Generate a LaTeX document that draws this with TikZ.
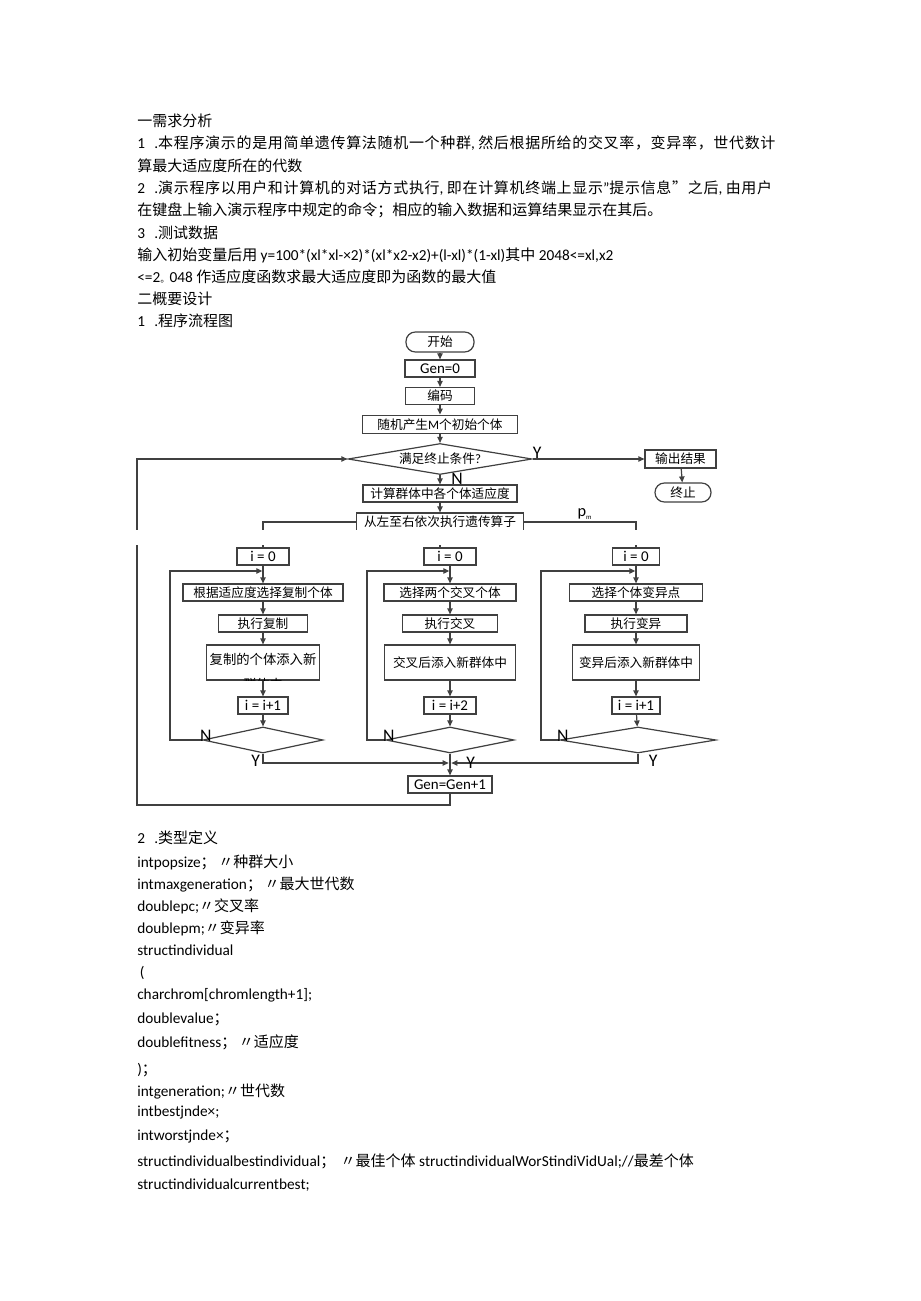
\documentclass[tikz,border=0pt]{standalone}
\usepackage{fontspec}
\setmainfont[Scale=1.02]{Carlito}
\newfontfamily\zhfont{Noto Sans CJK SC}
\newfontfamily\zhwide[LetterSpace=4.5]{Noto Sans CJK SC}
\usetikzlibrary{arrows.meta, shapes.geometric, positioning}

\newcommand{\zh}[1]{{\zhfont #1}}
\newcommand{\zhw}[1]{{\zhwide #1}}
\newcommand{\bodysize}{\fontsize{11.25}{13}\selectfont}
\newcommand{\chartsize}{\fontsize{9.5}{11}\selectfont}

\tikzset{
  line/.style = {draw=black!75, line width=0.9pt},
  arr/.style  = {line, -{Triangle[length=4.5pt, width=4pt]}},
  txt/.style  = {anchor=base west, inner sep=0pt, font=\bodysize},
  box/.style  = {line, rectangle, inner sep=0pt, minimum height=12.75pt, font=\chartsize},
  num/.style  = {box, font=\fontsize{11}{13}\selectfont},
  term/.style = {box, rounded corners=7pt, minimum height=15pt},
  test/.style = {line, diamond, inner sep=0pt, aspect=6, minimum height=19.5pt, font=\chartsize},
  lab/.style  = {inner sep=0pt, font=\fontsize{13}{15}\selectfont},
}

\begin{document}
\begin{tikzpicture}[x=0.75pt, y=-0.75pt]
\fill[white] (0,0) rectangle (920,1301);
\useasboundingbox (0,0) rectangle (920,1301);

% text above the chart
\node[txt] (l1)  at (137,126.5) {\zh{一需求分析}};
\node[txt] (l2)  at (137,148.5) {1\hspace{7pt}.\zhw{本程序演示的是用简单遗传算法随机一个种群}, \zhw{然后根据所给的交叉率，变异率，世代数计}};
\node[txt] (l3)  at (137,171.5) {\zh{算最大适应度所在的代数}};
\node[txt] (l4)  at (137,193.5) {2\hspace{7pt}.\zhw{演示程序以用户和计算机的对话方式执行}, \zhw{即在计算机终端上显示}"\zhw{提示信息”之后}, \zhw{由用户}};
\node[txt] (l5)  at (137,215.5) {\zh{在键盘上输入演示程序中规定的命令；相应的输入数据和运算结果显示在其后。}};
\node[txt] (l6)  at (137,238.5) {3\hspace{7pt}.\zh{测试数据}};
\node[txt] (l7)  at (137,260.5) {\zh{输入初始变量后用} y=100*(xl*xl-×2)*(xl*x2-x2)+(l-xl)*(1-xl)\zh{其中} 2048<=xl,x2};
\node[txt] (l8)  at (137,282.5) {<=2{\zhfont\fontsize{7}{7}\selectfont 。}048 \zh{作适应度函数求最大适应度即为函数的最大值}};
\node[txt] (l9)  at (137,304.5) {\zh{二概要设计}};
\node[txt] (l10) at (137,326.5) {1\hspace{7pt}.\zh{程序流程图}};

% main spine
\node[term, minimum width=51pt]    (start) at (440,342)   {\zh{开始}};
\node[num,  minimum width=52.5pt]  (gen0)  at (440,368.5) {Gen=0};
\node[box,  minimum width=51.75pt] (code)  at (440,396)   {\zh{编码}};
\node[box,  minimum width=116pt, minimum height=14pt] (init) at (440,424.5) {\zh{随机产生}M\zh{个初始个体}};
\node[test, minimum width=138pt, minimum height=23.25pt] (cond) at (440,459) {\zh{满足终止条件}?};
\node[box,  minimum width=53.25pt, minimum height=13.5pt] (out)  at (680.5,459) {\zh{输出结果}};
\node[term, minimum width=42pt, minimum height=14.25pt]  (stop) at (683,492.5) {\zh{终止}};
\node[box,  minimum width=115.5pt] (fit) at (440,493.5) {\zh{计算群体中各个体适应度}};
\node[box,  minimum width=125.25pt, minimum height=13.5pt] (ops) at (440,522) {\zh{从左至右依次执行遗传算子}};

\draw[arr] (start) -- (gen0);
\draw[arr] (gen0) -- (code);
\draw[arr] (code) -- (init);
\draw[arr] (init) -- (cond);
\draw[arr] (cond) -- node[lab, right=8pt, pos=0.35] (nN) {N} (fit);
\draw[arr] (fit) -- (ops);
\draw[arr] (cond.east) -- (out.west);
\node[lab, above right=0pt and 0pt of cond.east] (nY) {Y};
\draw[arr] (out) -- (stop);

% split into the three operators
\draw[line] (ops.west) -| (263,548);
\draw[line] (ops.south) -- (ops.south |- 0,548);
\draw[line] (ops.east) -| (636,548);
\node[inner sep=0pt, font=\fontsize{12}{14}\selectfont] (pm) at (585,514) {p\textsubscript{\tiny m}};

% left column: selection
\node[num, minimum width=39pt]    (i0L)  at (263,556.5) {i = 0};
\node[box, minimum width=120pt]   (selL) at (263,592.5) {\zh{根据适应度选择复制个体}};
\node[box, minimum width=66.75pt] (opL)  at (263,623.5) {\zh{执行复制}};
\node[box, minimum width=84.75pt, minimum height=26.25pt] (addL) at (263,662.5) {};
\node[inner sep=0pt, font=\fontsize{10}{12}\selectfont] (addLa) at (263,659) {\zh{复制的个体添入新}};
\begin{scope}
  \clip (200,640) rectangle (330,680.5);
  \node[inner sep=0pt, font=\fontsize{10}{12}\selectfont] (addLb) at (263,684) {\zh{群体中}};
\end{scope}
\node[num, minimum width=37.5pt]  (incL) at (263,705.5) {i = i+1};
\node[test, minimum width=90pt]   (decL) at (263,740) {};

% middle column: crossover
\node[num, minimum width=39pt]    (i0M)  at (450,556.5) {i = 0};
\node[box, minimum width=99pt]    (selM) at (450,592.5) {\zh{选择两个交叉个体}};
\node[box, minimum width=71.25pt] (opM)  at (450,623.5) {\zh{执行交叉}};
\node[box, minimum width=98.25pt, minimum height=26.25pt] (addM) at (450,662.5) {\zh{交叉后添入新群体中}};
\node[num, minimum width=39pt]    (incM) at (450,705.5) {i = i+2};
\node[test, minimum width=96pt]   (decM) at (450,740) {};

% right column: mutation
\node[num, minimum width=35.25pt] (i0R)  at (636,556.5) {i = 0};
\node[box, minimum width=99.75pt] (selR) at (636,592.5) {\zh{选择个体变异点}};
\node[box, minimum width=76.5pt]  (opR)  at (636,623.5) {\zh{执行变异}};
\node[box, minimum width=95.25pt, minimum height=26.25pt] (addR) at (636,662.5) {\zh{变异后添入新群体中}};
\node[num, minimum width=36pt]    (incR) at (636,705.5) {i = i+1};
\node[test, minimum width=117pt]  (decR) at (638,740) {};

\node[num, minimum width=63pt] (gen1) at (450,784.5) {Gen=Gen+1};

% left column links
\coordinate (jL) at (263,571);
\coordinate (cL) at (170,571);
\draw[arr] (i0L) -- (selL);
\draw[arr] (selL) -- (opL);
\draw[arr] (opL) -- (addL);
\draw[arr] (addL) -- (incL);
\draw[arr] (incL) -- (decL);
\draw[arr] (decL.west) -| (cL) -- ([xshift=-0.5pt]jL);
\node[lab, above left=-1pt and -7pt of decL.west] (nNL) {N};
%
\coordinate (jM) at (450,571);
\coordinate (cM) at (367,571);
\draw[arr] (i0M) -- (selM);
\draw[arr] (selM) -- (opM);
\draw[arr] (opM) -- (addM);
\draw[arr] (addM) -- (incM);
\draw[arr] (incM) -- (decM);
\draw[arr] (decM.west) -| (cM) -- ([xshift=-0.5pt]jM);
\node[lab, above left=-1pt and -7pt of decM.west] (nNM) {N};
%
\coordinate (jR) at (636,571);
\coordinate (cR) at (541,571);
\draw[arr] (i0R) -- (selR);
\draw[arr] (selR) -- (opR);
\draw[arr] (opR) -- (addR);
\draw[arr] (addR) -- (incR);
\draw[arr] (incR) -- (decR);
\draw[arr] (decR.west) -| (cR) -- ([xshift=-0.5pt]jR);
\node[lab, above left=-1pt and -7pt of decR.west] (nNR) {N};

% back to the generation counter
\coordinate (jY) at (450,763);
\draw[arr] (decL.south) |- ([xshift=-1pt]jY);
\draw[arr] (decR.south) |- ([xshift=1pt]jY);
\draw[arr] (decM.south) -- (gen1.north);
\node[lab, below left=1pt and 2pt of decL.south] (yL) {Y};
\node[lab, right=12pt of jY] (yM) {Y};
\node[lab, below right=1pt and 8pt of decR.south] (yR) {Y};

% loop to the test
\coordinate (cB) at (137,805);
\draw[arr] (gen1.south) |- (cB) |- (cond.west);

% scan gap
\fill[white] (120,530) rectangle (750,545);

% text below the chart
\node[txt] (m1)  at (137,843.7)  {2\hspace{7pt}.\zh{类型定义}};
\node[txt] (m2)  at (137,867.7)  {intpopsize\zh{；}\hspace{2pt}\zh{〃种群大小}};
\node[txt] (m3)  at (137,889.7)  {intmaxgeneration\zh{；}\hspace{2pt}\zh{〃最大世代数}};
\node[txt] (m4)  at (137,911.7)  {doublepc;\zh{〃交叉率}};
\node[txt] (m5)  at (137,933.7)  {doublepm;\zh{〃变异率}};
\node[txt] (m6)  at (137,955.7)  {structindividual};
\node[txt] (m7)  at (137,977.7)  {\hspace{2pt}(};
\node[txt] (m8)  at (137,999.7)  {charchrom[chromlength+1];};
\node[txt] (m9)  at (137,1023.7) {doublevalue\zh{；}};
\node[txt] (m10) at (137,1047.7) {doublefitness\zh{；}\hspace{2pt}\zh{〃适应度}};
\node[txt] (m11) at (137,1074.7) {)\zh{；}};
\node[txt] (m12) at (137,1096.7) {intgeneration;\zh{〃世代数}};
\node[txt] (m13) at (137,1116.7) {intbestjnde×;};
\node[txt] (m14) at (137,1140.7) {intworstjnde×\zh{；}};
\node[txt] (m15) at (137,1166.7) {structindividualbestindividual\zh{；}\hspace{4pt}\zh{〃最佳个体} structindividualWorStindiVidUal;//\zh{最差个体}};
\node[txt] (m16) at (137,1189.7) {structindividualcurrentbest;};
\end{tikzpicture}
\end{document}
